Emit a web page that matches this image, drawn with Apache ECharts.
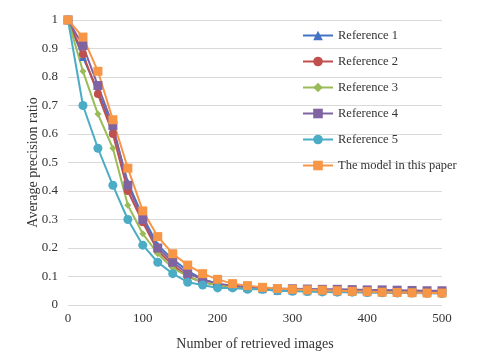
<!DOCTYPE html>
<html>
<head>
<meta charset="utf-8">
<script src="https://cdn.jsdelivr.net/npm/echarts@6/dist/echarts.min.js"></script>
<style>
  html, body { margin: 0; padding: 0; background: #fff; }
  #chart { width: 480px; height: 361px; }
</style>
</head>
<body>
<div id="chart"></div>
<script>
// number of retrieved images (x values)
const retrieved = [0, 20, 40, 60, 80, 100, 120, 140, 160, 180, 200, 220, 240, 260, 280, 300, 320, 340, 360, 380, 400, 420, 440, 460, 480, 500];

const ref1  = [1, 0.87, 0.75, 0.62, 0.43, 0.31, 0.21, 0.16, 0.12, 0.09, 0.075, 0.065, 0.06, 0.055, 0.05, 0.05, 0.048, 0.048, 0.047, 0.046, 0.045, 0.045, 0.044, 0.043, 0.043, 0.042];
const ref2  = [1, 0.88, 0.74, 0.60, 0.40, 0.29, 0.19, 0.14, 0.10, 0.08, 0.07, 0.065, 0.06, 0.057, 0.055, 0.053, 0.052, 0.051, 0.05, 0.05, 0.049, 0.048, 0.047, 0.046, 0.045, 0.045];
const ref3  = [1, 0.82, 0.67, 0.55, 0.35, 0.25, 0.18, 0.13, 0.10, 0.08, 0.07, 0.065, 0.06, 0.057, 0.055, 0.053, 0.052, 0.05, 0.05, 0.048, 0.047, 0.046, 0.045, 0.045, 0.044, 0.043];
const ref4  = [1, 0.91, 0.77, 0.63, 0.42, 0.30, 0.20, 0.15, 0.11, 0.09, 0.075, 0.068, 0.063, 0.06, 0.058, 0.057, 0.056, 0.055, 0.055, 0.054, 0.053, 0.053, 0.052, 0.051, 0.05, 0.05];
const ref5  = [1, 0.70, 0.55, 0.42, 0.30, 0.21, 0.15, 0.11, 0.08, 0.07, 0.06, 0.06, 0.055, 0.055, 0.05, 0.048, 0.047, 0.046, 0.045, 0.045, 0.044, 0.043, 0.042, 0.042, 0.041, 0.04];
const model = [1, 0.94, 0.82, 0.65, 0.48, 0.33, 0.24, 0.18, 0.14, 0.11, 0.09, 0.075, 0.068, 0.062, 0.058, 0.055, 0.053, 0.052, 0.05, 0.048, 0.047, 0.045, 0.044, 0.043, 0.042, 0.042];

const seriesNames = ['Reference 1', 'Reference 2', 'Reference 3', 'Reference 4', 'Reference 5', 'The model in this paper'];
const yTicks = [0, 0.1, 0.2, 0.3, 0.4, 0.5, 0.6, 0.7, 0.8, 0.9, 1];

const font = '"Liberation Serif", "DejaVu Serif", serif';

function pairs(vals) {
    return retrieved.map((x, i) => [x, vals[i]]);
}

function makeSeries(name, vals, color, symbol, size) {
    return {
        name: name,
        type: 'line',
        data: pairs(vals),
        symbol: symbol,
        symbolSize: size,
        lineStyle: { color: color, width: 2 },
        itemStyle: { color: color },
        emphasis: { disabled: true },
        animation: false
    };
}

let myChart = echarts.init(document.getElementById('chart'));
myChart.setOption({
    backgroundColor: '#fff',
    grid: { left: 68, right: 38, top: 20, bottom: 56 },
    legend: {
        orient: 'vertical',
        left: 297,
        top: 24,
        itemWidth: 30,
        itemHeight: 12,
        itemGap: 13,
        textStyle: { fontFamily: font, fontSize: 12.5, color: '#333' },
        data: seriesNames
    },
    xAxis: {
        type: 'value',
        min: 0,
        max: 500,
        interval: 100,
        name: 'Number of retrieved images',
        nameLocation: 'middle',
        nameGap: 32,
        nameMoveOverlap: false,
        nameTextStyle: { fontFamily: font, fontSize: 14, color: '#333' },
        axisLine: { show: false },
        axisTick: { show: false },
        splitLine: { show: false },
        axisLabel: { fontFamily: font, fontSize: 13, color: '#333', margin: 7 }
    },
    yAxis: {
        type: 'value',
        min: 0,
        max: 1,
        interval: 0.1,
        name: 'Average precision ratio',
        nameLocation: 'middle',
        nameGap: 28,
        nameMoveOverlap: false,
        nameTextStyle: { fontFamily: font, fontSize: 14, color: '#333' },
        axisLine: { show: false },
        axisTick: { show: false },
        splitLine: { lineStyle: { color: '#d9d9d9', width: 1 } },
        axisLabel: {
            fontFamily: font, fontSize: 13, color: '#333', margin: 10,
            formatter: v => yTicks.includes(+v.toFixed(1)) ? String(+v.toFixed(1)) : ''
        }
    },
    series: [
        makeSeries(seriesNames[0], ref1, '#4472C4', 'triangle', 8),
        makeSeries(seriesNames[1], ref2, '#C0504D', 'circle', 8),
        makeSeries(seriesNames[2], ref3, '#9BBB59', 'diamond', 7),
        makeSeries(seriesNames[3], ref4, '#8064A2', 'rect', 9),
        makeSeries(seriesNames[4], ref5, '#4BACC6', 'circle', 9),
        makeSeries(seriesNames[5], model, '#F79646', 'rect', 9)
    ]
});
</script>
</body>
</html>
